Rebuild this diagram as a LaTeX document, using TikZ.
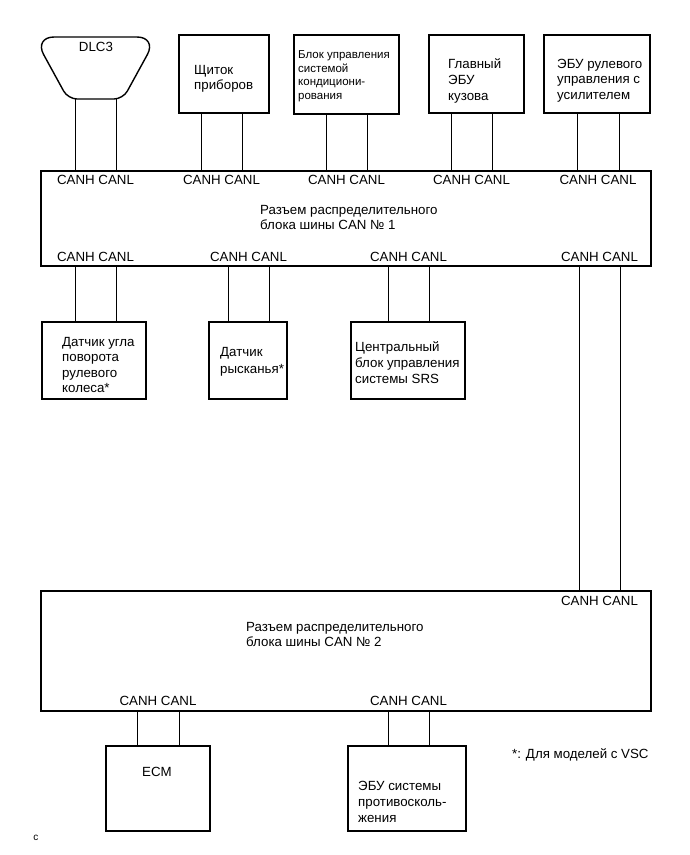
\documentclass[tikz,border=0pt]{standalone}
\usepackage{fontspec}
\setmainfont{Liberation Sans}
\begin{document}
\begin{tikzpicture}[x=1pt,y=-1pt,
  box/.style={draw,line width=1.4pt,inner sep=0,outer sep=0,anchor=north west},
  wire/.style={line width=0.8pt},
  lbl/.style={inner sep=0,font=\fontsize{13.3}{15}\selectfont},
  txt/.style={inner sep=0,align=left,anchor=north west,font=\fontsize{13.3}{15.5}\selectfont},
  small/.style={inner sep=0,align=left,anchor=north west,font=\fontsize{11.5}{13.5}\selectfont}]
\useasboundingbox (0,0) rectangle (690,855);
% DLC3 connector shape
\draw[line width=1.4pt] (95.5,37) [rounded corners=20pt] -- (157,37) [rounded corners=9pt] -- (123,99) -- (68,99) [rounded corners=20pt] -- (34,37) -- cycle;
\coordinate (dlcbot) at (95.5,99);
\node[lbl] (dlc) at (96,47) {DLC3};
% top boxes
\node[box,minimum width=90,minimum height=78] (shch) at (179,35) {};
\node[txt] (shcht) at (194,65) {Щиток\\приборов};
\node[box,minimum width=105,minimum height=79] (blok) at (294,35) {};
\node[small] (blokt) at (298,50.5) {Блок управления\\системой\\кондициони-\\рования};
\node[box,minimum width=95,minimum height=78] (glav) at (429,35) {};
\node[txt,font=\fontsize{13.3}{16}\selectfont] (glavt) at (448,58) {Главный\\ЭБУ\\кузова};
\node[box,minimum width=106,minimum height=78] (ebur) at (544,35) {};
\node[txt] (eburt) at (557,59) {ЭБУ рулевого\\управления с\\усилителем};
% bus 1
\node[box,minimum width=610,minimum height=95] (bus1) at (41,171) {};
\node[txt] (bus1t) at (260,205) {Разъем распределительного\\блока шины CAN № 1};
% middle boxes
\node[box,minimum width=104,minimum height=77] (dat1) at (42,322) {};
\node[txt] (dat1t) at (62,337) {Датчик угла\\поворота\\рулевого\\колеса*};
\node[box,minimum width=78,minimum height=77] (dat2) at (209,322) {};
\node[txt,font=\fontsize{13.3}{17}\selectfont] (dat2t) at (220,347) {Датчик\\рысканья*};
\node[box,minimum width=114,minimum height=77] (srs) at (351,322) {};
\node[txt,font=\fontsize{13.3}{16}\selectfont] (srst) at (355,341) {Центральный\\блок управления\\системы SRS};
% bus 2
\node[box,minimum width=610,minimum height=120] (bus2) at (41,591) {};
\node[txt] (bus2t) at (246,622) {Разъем распределительного\\блока шины CAN № 2};
% bottom boxes
\node[box,minimum width=104,minimum height=85] (ecm) at (106,746) {};
\node[lbl] (ecmt) at (157,772) {ECM};
\node[box,minimum width=118,minimum height=85] (vsc) at (348,746) {};
\node[txt,font=\fontsize{13.3}{16}\selectfont] (vsct) at (358,781) {ЭБУ системы\\противосколь-\\жения};
\node[lbl,anchor=west] (note) at (512,755) {*: Для моделей с VSC};
\node[inner sep=0,font=\fontsize{10}{11}\selectfont] (fig) at (36,838) {c};
% wire x positions
\coordinate (a1) at (75,0);  \coordinate (a2) at (116,0);
\coordinate (b1) at (201,0); \coordinate (b2) at (242,0);
\coordinate (c1) at (326,0); \coordinate (c2) at (367,0);
\coordinate (d1) at (451,0); \coordinate (d2) at (492,0);
\coordinate (e1) at (577,0); \coordinate (e2) at (619,0);
\coordinate (f1) at (228,0); \coordinate (f2) at (269,0);
\coordinate (g1) at (388,0); \coordinate (g2) at (429,0);
\coordinate (h1) at (579,0); \coordinate (h2) at (620,0);
\coordinate (k1) at (137,0); \coordinate (k2) at (179,0);
% wires top
\foreach \w in {a1,a2} \draw[wire] (\w |- dlcbot) -- (\w |- bus1.north);
\foreach \w in {b1,b2} \draw[wire] (\w |- shch.south) -- (\w |- bus1.north);
\foreach \w in {c1,c2} \draw[wire] (\w |- blok.south) -- (\w |- bus1.north);
\foreach \w in {d1,d2} \draw[wire] (\w |- glav.south) -- (\w |- bus1.north);
\foreach \w in {e1,e2} \draw[wire] (\w |- ebur.south) -- (\w |- bus1.north);
% wires middle
\foreach \w in {a1,a2} \draw[wire] (\w |- bus1.south) -- (\w |- dat1.north);
\foreach \w in {f1,f2} \draw[wire] (\w |- bus1.south) -- (\w |- dat2.north);
\foreach \w in {g1,g2} \draw[wire] (\w |- bus1.south) -- (\w |- srs.north);
\foreach \w in {h1,h2} \draw[wire] (\w |- bus1.south) -- (\w |- bus2.north);
% wires bottom
\foreach \w in {k1,k2} \draw[wire] (\w |- bus2.south) -- (\w |- ecm.north);
\foreach \w in {g1,g2} \draw[wire] (\w |- bus2.south) -- (\w |- vsc.north);
% CANH CANL labels
\foreach \m/\n in {95.5/l1,221.5/l2,346.5/l3,471.5/l4,598/l5}
  \node[lbl] (t\n) at (\m,180) {CANH CANL};
\foreach \m/\n in {95.5/m1,248.5/m2,408.5/m3,599.5/m4}
  \node[lbl] (b\n) at (\m,257) {CANH CANL};
\node[lbl] (p1) at (599.5,600.5) {CANH CANL};
\node[lbl] (p2) at (158,701) {CANH CANL};
\node[lbl] (p3) at (408.5,701) {CANH CANL};
\end{tikzpicture}
\end{document}
